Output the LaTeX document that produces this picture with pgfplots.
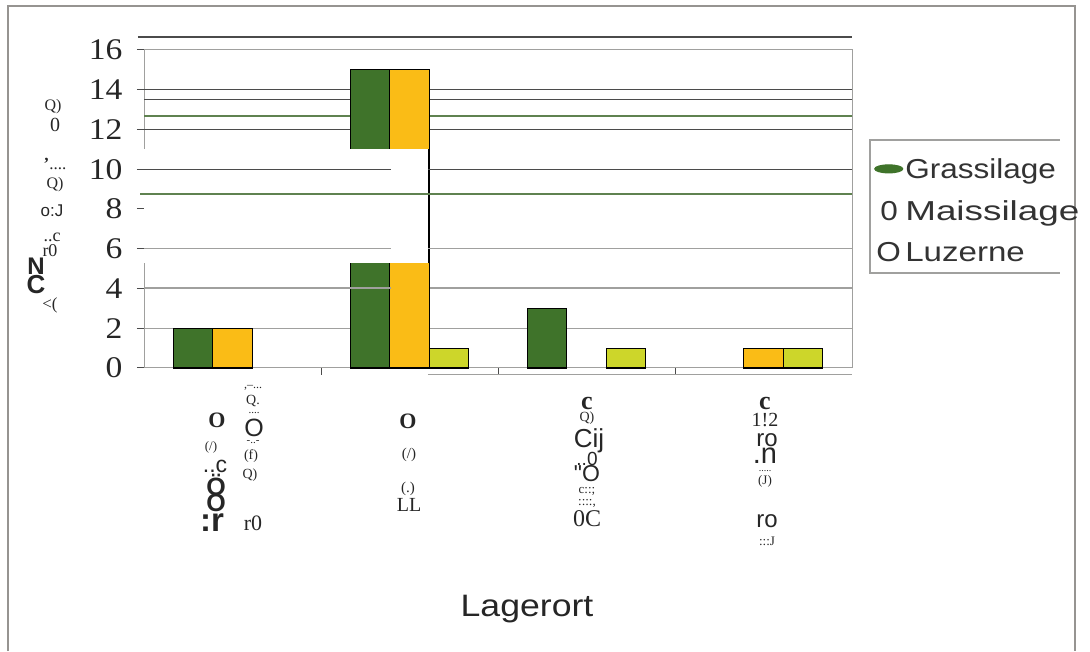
\documentclass[border=0pt]{standalone}
\usepackage{fontspec}
\setmainfont{Liberation Serif}
\newfontfamily\arial{Liberation Sans}
\newfontfamily\arialw[FakeStretch=1.15]{Liberation Sans}
\newfontfamily\timesw[FakeStretch=1.12]{Liberation Serif}
\usepackage{pgfplots}
\pgfplotsset{compat=1.18}

\definecolor{gras}{RGB}{63,115,42}
\definecolor{mais}{RGB}{250,188,22}
\definecolor{luz}{RGB}{205,214,42}
\definecolor{rahmen}{RGB}{150,148,145}
\definecolor{gdark}{RGB}{75,75,75}
\definecolor{ggreen}{RGB}{95,130,80}
\definecolor{glight}{RGB}{160,160,158}

\newcommand\fs[1]{\fontsize{#1}{#1}\selectfont}
% garbled scan fragments: x, y (pixels from top), font, text
\newcommand\frag[4]{\node[font=#3, text=black!85, inner sep=0pt] at (#1,{651-#2}) {#4};}

\begin{document}
\begin{tikzpicture}[x=1pt,y=1pt]
\path[use as bounding box] (0,0) rectangle (1090,651);
\draw[rahmen, line width=1.6pt] (8,0) -- (8,645) -- (1075,645) -- (1075,0);

\begin{axis}[
  at={(144pt,283pt)}, anchor=south west,
  width=708pt, height=318pt, scale only axis,
  xmin=-0.5, xmax=3.5, ymin=0, ymax=16,
  clip=false,
  ybar=0pt, bar width=0.2232,
  axis line style={glight, line width=1pt},
  xtick={0.5,1.5,2.5}, xticklabels={},
  ytick={0,2,...,16},
  tick align=outside, tick pos=left,
  major tick length=7pt,
  tick style={gdark, line width=1pt},
  /pgf/number format/assume math mode=true,
  yticklabel style={font=\timesw\fs{30}, text=black!85, xshift=-11pt},
  legend style={at={(1.0254,0.717)}, anchor=north west, draw=none, fill=none,
    font=\arialw\fs{27.4}, text=black!80, row sep=17pt, inner xsep=4pt, inner ysep=16pt,
    /tikz/every even column/.append style={column sep=2pt}},
  legend cell align=left,
]
% grid and stray scan lines behind the bars
\draw[glight, line width=1pt] (axis cs:-0.5,2) -- (axis cs:3.5,2);
\draw[glight, line width=2pt] (axis cs:0.8955,4) -- (axis cs:3.5,4);
\draw[gdark, line width=1.2pt] (axis cs:-0.5,12) -- (axis cs:3.5,12);
\draw[ggreen, line width=1.2pt] (axis cs:-0.5,12.68) -- (axis cs:3.5,12.68);
\draw[gdark, line width=1pt] (axis cs:-0.5,13.53) -- (axis cs:3.5,13.53);
\draw[gdark, line width=1.2pt] (axis cs:-0.5,14) -- (axis cs:3.5,14);
\draw[gdark, line width=1.2pt] (axis cs:-0.534,16.65) -- (axis cs:3.5,16.65);
\draw[glight, line width=1pt] (axis cs:1.1045,-0.35) -- (axis cs:3.5,-0.35);

\addplot[fill=gras, draw=black, line width=1.1pt,
  legend image code/.code={\fill[gras] (15pt,0pt) ellipse (14pt and 4pt);}]
  coordinates {(0,2) (1,15) (2,3)};
\addplot[fill=mais, draw=black, line width=1.1pt,
  legend image code/.code={\node[inner sep=0pt, anchor=west, font=\arialw\fs{27.4}, text=black!80] at (6pt,0pt) {0};}]
  coordinates {(0,2) (1,15) (3,1)};
\addplot[fill=luz, draw=black, line width=1.1pt,
  legend image code/.code={\node[inner sep=0pt, anchor=west, font=\arialw\fs{27.4}, text=black!80] at (2pt,0pt) {O};}]
  coordinates {(1,1) (2,1) (3,1)};
\legend{Grassilage, \scalebox{1.17}[1]{Maissilage}, \scalebox{1.05}[1]{Luzerne}}

% white patch of the scan and the lines drawn over it
\fill[white] (axis cs:-0.5,5.28) rectangle (axis cs:1.1045,11.02);
\draw[black, line width=0.8pt] (axis cs:1.1045,5.28) -- (axis cs:1.1045,11.02);
\draw[gdark, line width=1pt] (axis cs:-0.5,10) -- (axis cs:0.8955,10);
\draw[gdark, line width=1pt] (axis cs:1.1045,10) -- (axis cs:3.5,10);
\draw[ggreen, line width=1.2pt] (axis cs:-0.52,8.75) -- (axis cs:3.5,8.75);
\draw[glight, line width=1.2pt] (axis cs:-0.5,6) -- (axis cs:0.8955,6);
\draw[glight, line width=1.2pt] (axis cs:1.1045,6) -- (axis cs:3.5,6);
\draw[glight, line width=2pt] (axis cs:-0.5,4) -- (axis cs:0.8955,4);
\end{axis}

% legend frame (open on the right)
\draw[glight, line width=1.5pt] (1060,{651-140}) -- (870,{651-140}) -- (870,{651-273}) -- (1060,{651-273});

% x axis title
\node[font=\arialw\fs{31}, text=black!85] at (527,{651-609}) {Lagerort};

% y axis title as it came out of the scan
\frag{53}{107}{\fs{16}}{Q)}
\frag{55}{125}{\fs{20}\color{black!55}}{0}
\frag{55}{164}{\fs{17}}{\textbf{'}....}
\frag{55}{185}{\fs{16}}{Q)}
\frag{52}{211}{\arial\fs{17}}{o:J}
\frag{52}{237}{\fs{18}}{..c}
\frag{50}{251}{\fs{18}}{r0}
\frag{36}{266}{\arial\bfseries\fs{24}}{N}
\frag{36}{285}{\arial\bfseries\fs{26}}{C}
\frag{50}{305}{\fs{17}}{<(}

% category labels as they came out of the scan
\frag{217}{420}{\bfseries\fs{22}}{O}
\frag{253}{388}{\fs{12}}{,--...}
\frag{253}{401}{\fs{14}}{Q.}
\frag{254}{413}{\fs{11}}{....}
\frag{254}{428}{\arial\fs{25}}{O}
\frag{253}{442}{\fs{11}}{-..-}
\frag{211}{447}{\fs{13}}{(/)}
\frag{251}{456}{\fs{14}}{(f)}
\frag{215}{466}{\arial\fs{23}}{..c}
\frag{250}{475}{\fs{14}}{Q)}
\frag{216}{485}{\arial\bfseries\fs{25}}{Ö}
\frag{216}{503}{\arial\bfseries\fs{25}}{O}
\frag{212}{523}{\arial\bfseries\fs{33}}{:r}
\frag{253}{523}{\fs{22}}{r0}

\frag{408}{421}{\bfseries\fs{22}}{O}
\frag{409}{455}{\fs{15}}{(/)}
\frag{408}{489}{\fs{15}}{(.)}
\frag{409}{505}{\fs{20}}{LL}

\frag{587}{403}{\bfseries\fs{26}}{c}
\frag{587}{418}{\fs{14}}{Q)}
\frag{589}{441}{\arial\fs{26}}{Cij}
\frag{587}{459}{\arial\fs{19}}{..0}
\frag{587}{474}{\arial\fs{23}}{"O}
\frag{587}{491}{\fs{13}}{c::;}
\frag{587}{503}{\fs{13}}{::::,}
\frag{587}{519}{\fs{24}}{0C}

\frag{765}{403}{\bfseries\fs{26}}{c}
\frag{765}{420}{\fs{20}}{1!2}
\frag{767}{440}{\arial\fs{24}}{ro}
\frag{765}{456}{\arial\fs{29}}{.n}
\frag{765}{471}{\fs{10}}{.....}
\frag{765}{481}{\fs{13}}{(J)}
\frag{767}{521}{\arial\fs{24}}{ro}
\frag{767}{541}{\fs{13}}{:::J}
\end{tikzpicture}
\end{document}
